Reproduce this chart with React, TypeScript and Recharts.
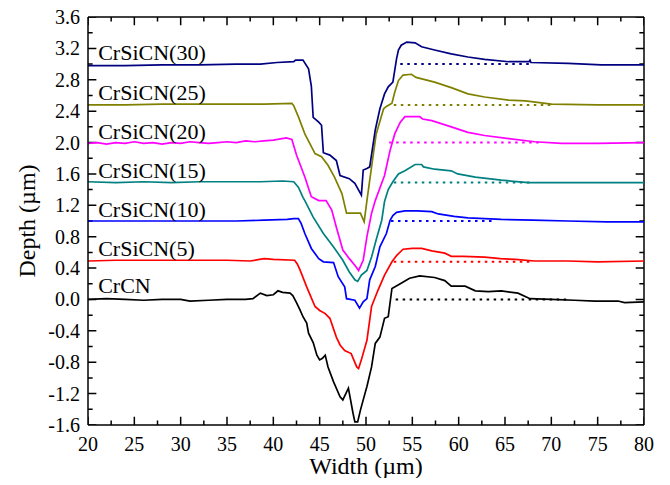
import React from "react";
import { LineChart, Line, XAxis, YAxis, ReferenceDot, ReferenceLine } from "recharts";

type Pt = [number, number];

// profiles: [width (µm), depth (µm)]
const crcn: Pt[] = [
  [20, 0.0], [22, 0.01], [24, 0.0], [26, -0.01], [28, 0.0], [30, 0.0], [31, -0.02], [33, -0.01],
  [35, 0.0], [37, 0.0], [37.8, 0.01], [38.6, 0.08], [39.3, 0.05], [40.0, 0.06], [40.5, 0.11],
  [41, 0.09], [41.8, 0.08], [42.1, 0.05], [42.5, -0.04], [42.9, -0.14], [43.2, -0.22], [43.6, -0.3],
  [43.8, -0.43], [44.3, -0.55], [44.7, -0.71], [45.0, -0.77], [45.3, -0.75], [45.6, -0.71],
  [45.9, -0.86], [46.5, -1.05], [47.2, -1.24], [47.5, -1.28], [48.1, -1.13], [48.6, -1.45],
  [48.8, -1.56], [49.1, -1.56], [49.4, -1.41], [49.7, -1.28], [50.1, -1.11], [50.6, -0.86],
  [51.0, -0.56], [51.5, -0.48], [52.0, -0.24], [52.4, -0.22], [52.8, 0.14], [53.7, 0.2],
  [54.7, 0.27], [55.8, 0.3], [57.4, 0.28], [58.5, 0.24], [59.2, 0.17], [60.7, 0.17], [61.8, 0.11],
  [63.2, 0.1], [64.6, 0.11], [66.4, 0.08], [67.7, 0.01], [70.0, 0.0], [72.5, -0.01], [74.7, -0.02],
  [77.2, -0.02], [77.9, -0.04], [80, -0.03],
];

const crsicn5: Pt[] = [
  [20, 0.49], [23, 0.5], [26, 0.5], [29, 0.5], [32, 0.5], [35, 0.5], [37.5, 0.49], [38.5, 0.51],
  [39, 0.52], [40, 0.51], [42.3, 0.5], [42.6, 0.45], [42.9, 0.37], [43.6, 0.16], [44.1, 0.02],
  [44.5, -0.09], [45.0, -0.14], [45.6, -0.18], [46.1, -0.24], [46.8, -0.48], [47.2, -0.58],
  [47.7, -0.65], [48.4, -0.69], [49.0, -0.86], [49.2, -0.88], [49.5, -0.77], [50.1, -0.52],
  [50.6, -0.09], [51.3, 0.12], [52.0, 0.31], [52.8, 0.48], [53.3, 0.56], [54.0, 0.64], [55.0, 0.65],
  [56.0, 0.65], [57.1, 0.62], [58.5, 0.59], [59.2, 0.55], [60.5, 0.55], [62.8, 0.54], [64.5, 0.52],
  [66.1, 0.51], [68.2, 0.49], [71.8, 0.49], [75, 0.48], [80, 0.49],
];

const crsicn10: Pt[] = [
  [20, 1.0], [24, 1.0], [28, 1.0], [32, 1.0], [36, 1.0], [39, 1.01], [41.5, 1.02], [42.2, 1.03],
  [42.7, 1.03], [43.0, 0.97], [43.4, 0.84], [44.1, 0.65], [44.9, 0.52], [45.4, 0.48], [46.5, 0.47],
  [47.0, 0.29], [47.7, 0.16], [47.9, 0.01], [48.8, -0.01], [49.3, -0.11], [49.7, -0.03], [50.1, 0.01],
  [50.4, 0.25], [51.0, 0.42], [51.5, 0.67], [52.2, 0.84], [52.6, 1.01], [52.9, 1.07], [53.3, 1.11],
  [54.2, 1.13], [55.5, 1.13], [57.1, 1.12], [57.8, 1.09], [59.5, 1.06], [61.0, 1.04], [64.6, 1.02],
  [68, 1.01], [71.8, 1.0], [76, 0.99], [80, 0.99],
];

const crsicn15: Pt[] = [
  [20, 1.5], [23, 1.49], [26, 1.5], [29, 1.49], [32, 1.5], [35, 1.5], [38.6, 1.5], [41, 1.51],
  [42.2, 1.5], [42.7, 1.43], [43.2, 1.3], [43.4, 1.26], [44.3, 1.05], [45.4, 0.84], [46.5, 0.67],
  [47.5, 0.5], [48.2, 0.35], [48.8, 0.25], [49.1, 0.23], [49.5, 0.31], [50.1, 0.37], [50.6, 0.54],
  [51.1, 0.76], [51.7, 1.01], [52.0, 1.25], [52.4, 1.4], [52.9, 1.5], [53.5, 1.6], [54.2, 1.64],
  [55.3, 1.72], [56.0, 1.72], [56.2, 1.69], [57.4, 1.66], [59.2, 1.64], [59.9, 1.6], [61.8, 1.56],
  [64.6, 1.52], [67.5, 1.49], [71.8, 1.49], [76, 1.49], [80, 1.49],
];

const crsicn20: Pt[] = [
  [20, 1.99], [21, 2.0], [22, 1.98], [23, 2.0], [24, 1.99], [25, 2.01], [26, 1.99], [27, 2.0],
  [28, 1.98], [29, 2.0], [30, 1.99], [31, 2.01], [32, 2.0], [33, 1.99], [34, 2.0], [35, 2.01],
  [36, 2.0], [37, 2.02], [38, 2.01], [39, 2.02], [40, 2.03], [41.4, 2.06], [42.0, 2.04], [42.5, 1.84],
  [43.4, 1.56], [44.1, 1.31], [44.9, 1.26], [45.7, 1.26], [46.3, 1.14], [46.6, 1.01], [46.8, 0.92],
  [47.5, 0.63], [48.2, 0.52], [48.9, 0.42], [49.2, 0.37], [49.7, 0.5], [50.1, 0.8], [50.6, 1.1],
  [51.0, 1.26], [51.5, 1.42], [52.0, 1.58], [52.6, 1.9], [53.1, 2.11], [53.7, 2.26], [54.2, 2.33],
  [55.8, 2.33], [56.1, 2.3], [57.1, 2.28], [59.2, 2.2], [61.0, 2.13], [62.8, 2.09], [65.4, 2.05],
  [68.2, 2.01], [71.1, 1.99], [75, 1.99], [80, 2.0],
];

const crsicn25: Pt[] = [
  [20, 2.48], [24, 2.48], [28, 2.49], [32, 2.49], [36, 2.49], [39, 2.49], [42.0, 2.5], [42.2, 2.47],
  [42.7, 2.33], [43.4, 2.11], [44.5, 1.86], [45.2, 1.82], [45.9, 1.71], [46.6, 1.56], [47.4, 1.35],
  [47.9, 1.1], [49.4, 1.1], [49.8, 0.99], [50.1, 1.26], [50.6, 1.69], [51.1, 2.11], [51.9, 2.43],
  [52.2, 2.46], [52.8, 2.5], [53.1, 2.64], [53.5, 2.79], [54.0, 2.86], [54.9, 2.87], [55.4, 2.83],
  [57.4, 2.77], [59.2, 2.7], [61.0, 2.62], [62.8, 2.58], [65.4, 2.54], [67.2, 2.53], [70.0, 2.49],
  [75, 2.48], [80, 2.48],
];

const crsicn30: Pt[] = [
  [20, 2.98], [24, 2.98], [28, 2.99], [32, 2.99], [36, 3.0], [38.6, 3.0], [40.4, 3.02], [42.2, 3.03],
  [42.4, 3.05], [43.2, 3.05], [43.8, 2.94], [44.1, 2.72], [44.3, 2.32], [44.9, 2.26], [45.2, 2.22],
  [45.4, 1.87], [46.1, 1.84], [46.8, 1.77], [47.2, 1.58], [48.2, 1.54], [48.8, 1.48], [49.5, 1.33],
  [49.7, 1.65], [50.1, 1.67], [50.4, 1.69], [51.0, 2.16], [51.5, 2.43], [52.0, 2.62], [52.4, 2.71],
  [52.9, 2.77], [53.3, 3.07], [53.5, 3.18], [53.8, 3.24], [54.4, 3.28], [55.3, 3.27], [56.0, 3.22],
  [57.4, 3.18], [59.2, 3.13], [61.0, 3.09], [62.8, 3.06], [65.4, 3.03], [67.6, 3.03], [67.7, 3.05],
  [67.8, 3.02], [71.8, 3.01], [75.4, 2.99], [80, 2.99],
];

const names = ["CrCN", "CrSiCN(5)", "CrSiCN(10)", "CrSiCN(15)", "CrSiCN(20)", "CrSiCN(25)", "CrSiCN(30)"];
const colors = ["#000000", "#ff0000", "#0000ff", "#008080", "#ff00ff", "#808000", "#000080"];
const profiles = [crcn, crsicn5, crsicn10, crsicn15, crsicn20, crsicn25, crsicn30];

// dotted reference levels (original surface) and their x span
const baseLevels = [0, 0.48, 1.0, 1.49, 2.0, 2.48, 3.0];
const baseSpans: Pt[] = [[53.2, 72], [53, 68], [52.7, 64], [53, 68], [52.5, 69], [53, 70], [53.7, 68]];

// text label anchors
const labelX = 21.1;
const labelY = [0.18, 0.65, 1.15, 1.65, 2.14, 2.64, 3.15];

const X_MIN = 20, X_MAX = 80, Y_MIN = -1.6, Y_MAX = 3.6;
const xTicks = [20, 22.5, 25, 27.5, 30, 32.5, 35, 37.5, 40, 42.5, 45, 47.5, 50, 52.5, 55, 57.5, 60, 62.5, 65, 67.5, 70, 72.5, 75, 77.5, 80];
const yTicks = [
  -1.6, -1.4, -1.2, -1.0, -0.8, -0.6, -0.4, -0.2, 0, 0.2, 0.4, 0.6, 0.8, 1.0, 1.2, 1.4, 1.6,
  1.8, 2.0, 2.2, 2.4, 2.6, 2.8, 3.0, 3.2, 3.4, 3.6,
];

const FONT = "'Liberation Serif', 'Times New Roman', serif";

const isMajorX = (v: number) => Math.abs(v / 5 - Math.round(v / 5)) < 1e-6;
const isMajorY = (v: number) => Math.abs(v / 0.4 - Math.round(v / 0.4)) < 1e-6;

// inward tick marks as short segments (axis units: ~8px major, ~4.5px minor), split by nulls
const vTicks = (y0: number, dir: number) =>
  xTicks.flatMap((t) => [[t, y0], [t, y0 + dir * (isMajorX(t) ? 0.105 : 0.058)], [t, null]]);
const hTicks = (x0: number, dir: number) =>
  yTicks.flatMap((t) => [[x0, t], [x0 + dir * (isMajorY(t) ? 0.9 : 0.5), t], [x0, null]]);
const tickSets = [vTicks(Y_MIN, 1), vTicks(Y_MAX, -1), hTicks(X_MIN, 1), hTicks(X_MAX, -1)];

const BottomTick = (p: any) => {
  const v = p.payload.value;
  if (!isMajorX(v)) return <g />;
  return (
    <text x={p.x} y={p.y + 26} textAnchor="middle" fontSize={20} fontFamily={FONT} fill="#000">
      {v}
    </text>
  );
};

const LeftTick = (p: any) => {
  const v = p.payload.value;
  if (!isMajorY(v)) return <g />;
  return (
    <text x={p.x - 8} y={p.y} dy="0.35em" textAnchor="end" fontSize={20} fontFamily={FONT} fill="#000">
      {v.toFixed(1)}
    </text>
  );
};

const axisLine = { stroke: "#000", strokeWidth: 1.5 };

export default function App() {
  return (
    <LineChart width={654} height={470} margin={{ top: 9, right: 18, left: 10, bottom: 8 }}>
      <XAxis
        xAxisId="b"
        type="number"
        dataKey="0"
        domain={[X_MIN, X_MAX]}
        ticks={xTicks}
        interval={0}
        allowDataOverflow
        height={45}
        tickSize={0}
        tickMargin={0}
        tickLine={false}
        axisLine={axisLine}
        tick={BottomTick}
        label={{
          content: () => (
            <text x={358} y={466} textAnchor="middle" fontSize={24} fontFamily={FONT} fill="#000">
              Width (µm)
            </text>
          ),
        }}
      />
      <YAxis
        yAxisId="l"
        type="number"
        dataKey="1"
        domain={[Y_MIN, Y_MAX]}
        ticks={yTicks}
        interval={0}
        allowDataOverflow
        width={70}
        tickSize={0}
        tickMargin={0}
        tickLine={false}
        axisLine={axisLine}
        tick={LeftTick}
        label={{
          content: () => (
            <text
              x={19}
              y={213}
              transform="rotate(-90 19 213)"
              textAnchor="middle"
              dy="0.35em"
              fontSize={24}
              fontFamily={FONT}
              fill="#000"
            >
              Depth (µm)
            </text>
          ),
        }}
      />
      {/* top and right frame */}
      <ReferenceLine xAxisId="b" yAxisId="l" y={Y_MAX} {...axisLine} />
      <ReferenceLine xAxisId="b" yAxisId="l" x={X_MAX} {...axisLine} />
      {tickSets.map((d, i) => (
        <Line
          key={"ticks" + i}
          xAxisId="b"
          yAxisId="l"
          data={d}
          dataKey="1"
          stroke="#000"
          strokeWidth={1.5}
          dot={false}
          activeDot={false}
          isAnimationActive={false}
        />
      ))}
      {baseLevels.map((lv, i) => (
        <Line
          key={"base" + i}
          xAxisId="b"
          yAxisId="l"
          data={[[baseSpans[i][0], lv], [baseSpans[i][1], lv]]}
          dataKey="1"
          stroke={colors[i]}
          strokeWidth={2}
          strokeDasharray="2.5 4.5"
          dot={false}
          activeDot={false}
          isAnimationActive={false}
        />
      ))}
      {profiles.map((d, i) => (
        <Line
          key={names[i]}
          xAxisId="b"
          yAxisId="l"
          data={d}
          dataKey="1"
          type="linear"
          stroke={colors[i]}
          strokeWidth={1.7}
          dot={false}
          activeDot={false}
          isAnimationActive={false}
        />
      ))}
      {names.map((n, i) => (
        <ReferenceDot
          key={"lbl" + i}
          xAxisId="b"
          yAxisId="l"
          x={labelX}
          y={labelY[i]}
          r={0}
          fill="none"
          stroke="none"
          label={{ value: n, position: "right", offset: 0, fontSize: 22, fontFamily: FONT, fill: "#000" }}
        />
      ))}
    </LineChart>
  );
}
